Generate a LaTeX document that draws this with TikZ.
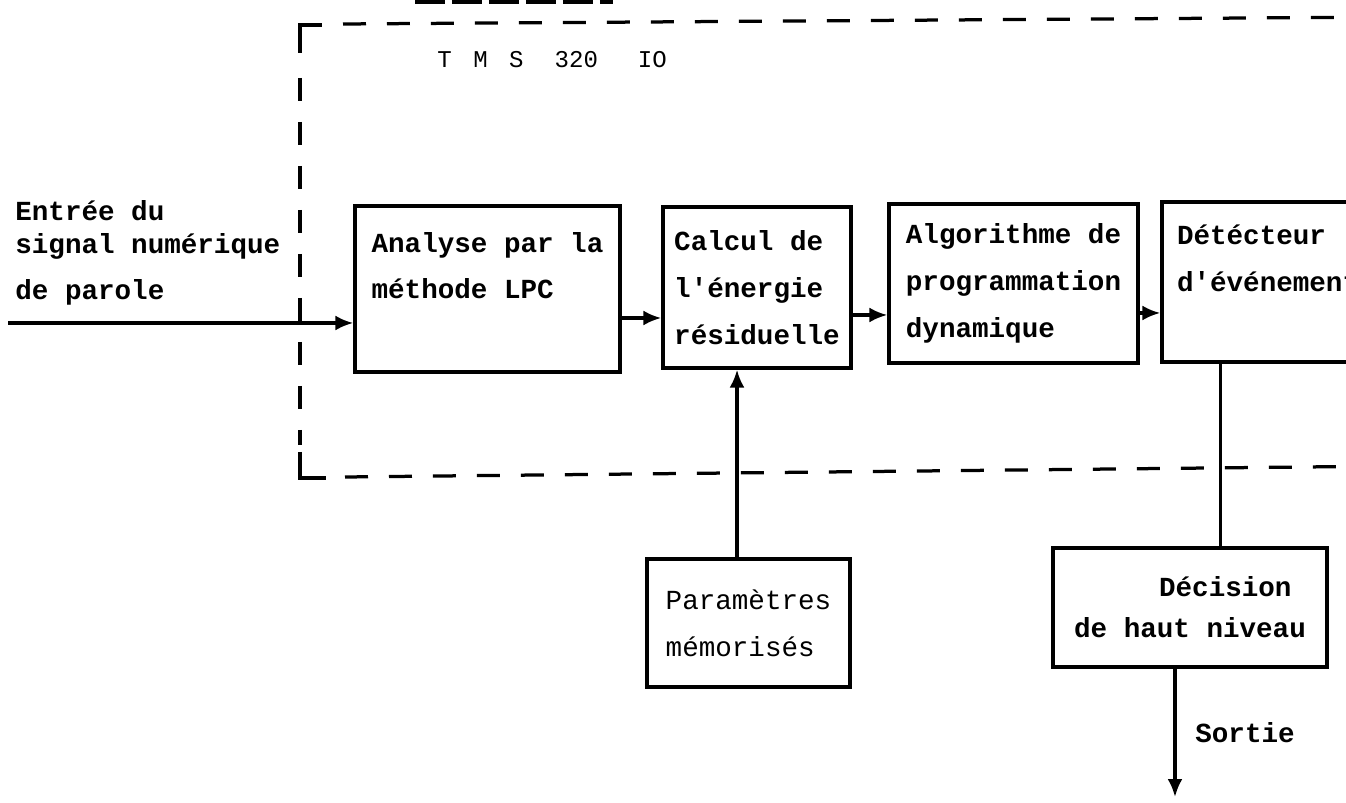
\documentclass[tikz,border=0pt]{standalone}
\usepackage{fontspec}
\newfontfamily\typew{Liberation Mono}
\usetikzlibrary{
    arrows.meta,
    positioning,
    calc
}

\begin{document}
\begin{tikzpicture}[x=0.02cm, y=-0.02cm,
    blok/.style={draw, line width=0.065cm, align=left, inner sep=0pt,
                 font=\typew\bfseries\fontsize{15.7}{26.7}\selectfont},
    txt/.style={align=left, inner sep=0pt, font=\typew\fontsize{15.7}{26.7}\selectfont},
    flow/.style={line width=0.065cm, -{Latex[length=0.36cm,width=0.3cm]}},
    wire/.style={line width=0.065cm},
    frame/.style={line width=0.065cm, dash pattern=on 0.46cm off 0.42cm}]
    \useasboundingbox (0,0) rectangle (1346,803);
    \clip (0,0) rectangle (1346,803);

    % Remains of the line above
    \draw[line width=0.065cm, dash pattern=on 0.6cm off 0.14cm] (415,2) -- (613,2);

    % TMS 320 10 frame
    \draw[wire] (300,53) -- (300,25) -- (322,25);
    \draw[frame] (343,24) -- (1400,17);
    \draw[frame] (300,78) -- (300,445);
    \draw[wire] (300,452) -- (300,478) -- (326,478);
    \draw[frame] (345,477) -- (1400,466);
    \node[txt, anchor=base west, font=\typew\fontsize{13.7}{20}\selectfont] (tms) at (437,68)
        {T\hspace{0.43cm}M\hspace{0.43cm}S\hspace{0.62cm}320\hspace{0.8cm}IO};

    % Chain of blocks
    \node[blok, minimum width=5.3cm, minimum height=3.32cm] (lpc) at (487.5,289)
        {Analyse par la\\méthode LPC\\\mbox{}};
    \node[blok, minimum width=3.76cm, minimum height=3.22cm] (ener) at (757,287.5)
        {Calcul de\\l'énergie\\résiduelle};
    \node[blok, minimum width=4.98cm, minimum height=3.18cm] (dyna) at (1013.5,283.5)
        {Algorithme de\\programmation\\dynamique};
    \node[blok, text width=4.86cm, inner xsep=0.3cm, minimum height=3.2cm] (detect) at (1298.5,282)
        {Détécteur\\d'événement\\\mbox{}};

    % Stored parameters and decision
    \node[blok, font=\typew\fontsize{15.7}{26.7}\selectfont, minimum width=4.06cm, minimum height=2.56cm]
        (param) at (748.5,623) {Paramètres\\mémorisés};
    \node[blok, font=\typew\bfseries\fontsize{15.7}{23.3}\selectfont, minimum width=5.48cm, minimum height=2.38cm]
        (decis) at (1190,607.5) {\hspace*{1.7cm}Décision\\de haut niveau};

    % Input
    \coordinate (entree) at (8,323);
    \node[txt, font=\typew\bfseries\fontsize{15.7}{26.7}\selectfont, anchor=base west] (entreetxt) at (15,300)
        {Entrée du\\[-0.28cm]signal numérique\\de parole};
    \draw[flow] (entree) -- (entree -| lpc.west);

    % Arrows between blocks
    \draw[flow] (lpc.east |- 0,318) -- (ener.west |- 0,318);
    \draw[flow] (ener.east |- 0,315) -- (dyna.west |- 0,315);
    \draw[flow] (dyna.east |- 0,313) -- (detect.west |- 0,313);
    \draw[flow] ([xshift=-0.23cm]param.north) -- ([xshift=-0.23cm]param.north |- ener.south);
    \draw[wire] ([xshift=1.2cm]detect.south west) -- ([xshift=1.2cm]detect.south west |- decis.north);

    % Output
    \coordinate (sortie) at (1175,797);
    \draw[flow] (decis.south -| sortie) -- (sortie);
    \node[txt, font=\typew\bfseries\fontsize{15.7}{26.7}\selectfont, anchor=base west] (sortietxt) at (1195,743) {Sortie};
\end{tikzpicture}
\end{document}
